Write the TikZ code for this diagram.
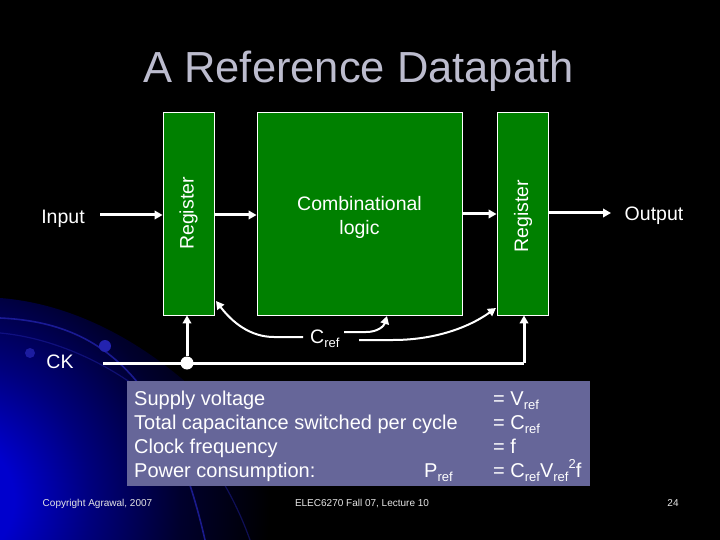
\documentclass[tikz,border=0pt]{standalone}
\usepackage{fontspec}
\setmainfont{Liberation Sans}
\usetikzlibrary{arrows.meta}
\definecolor{reggreen}{RGB}{0,128,0}
\definecolor{boxblue}{RGB}{102,102,153}
\definecolor{titlegray}{RGB}{188,188,206}
\definecolor{glowblue}{RGB}{0,0,205}
\definecolor{glowmid}{RGB}{0,0,125}
\definecolor{glowlow}{RGB}{0,0,45}
\definecolor{arcblue}{RGB}{35,35,175}
\definecolor{footgray}{RGB}{230,230,230}
\pgfdeclareradialshading{myglow}{\pgfpoint{0bp}{0bp}}{color(0bp)=(glowblue); color(5bp)=(glowblue); color(11bp)=(glowmid); color(18bp)=(glowlow); color(25bp)=(black); color(50bp)=(black)}
\newcommand\lowsub[1]{\raisebox{-0.22em}{\fontsize{13}{13}\selectfont #1}}
\newcommand\highsup[1]{\raisebox{0.45em}{\fontsize{13}{13}\selectfont #1}}
\begin{document}
\begin{tikzpicture}[x=1pt,y=-1pt,
  reg/.style={draw=white, fill=reggreen, line width=0.8pt, minimum width=51, minimum height=203, inner sep=0},
  comb/.style={draw=white, fill=reggreen, line width=0.8pt, minimum width=205, minimum height=203, inner sep=0},
  lbl/.style={text=white, inner sep=0, font=\fontsize{19.5}{24}\selectfont},
  boxtxt/.style={text=white, inner sep=0, anchor=base west, font=\fontsize{20}{24}\selectfont},
  foot/.style={text=footgray, inner sep=0, anchor=base, font=\fontsize{10}{12}\selectfont},
  wire/.style={white, line width=3pt},
  feed/.style={white, line width=2pt},
  tip/.style={-{Triangle[length=8,width=8.5]}}
]
\fill[black] (0,0) rectangle (720,540);
\useasboundingbox (0,0) rectangle (720,540);
% background glow
\begin{scope}
  \clip (0,298) .. controls (130,308) and (250,420) .. (305,540) -- (0,540) -- cycle;
  \shade[shading=myglow] (-50,500) circle (320);
\end{scope}
\draw[arcblue, line width=1.6pt, opacity=0.75] (0,318) .. controls (90,322) and (165,365) .. (205,540);
\draw[arcblue, line width=1.2pt, opacity=0.45] (0,333) .. controls (80,340) and (200,400) .. (250,540);
\fill[arcblue] (105,346) circle (6);
\fill[arcblue, opacity=0.8] (30,353) circle (5);

% title
\node[text=titlegray, inner sep=0, anchor=base, font=\fontsize{43.5}{50}\selectfont] (title) at (358.5,83) {A Reference Datapath};

% blocks
\node[reg] (reg1) at (188.5,213.5) {};
\node[lbl, rotate=90] (reg1t) at (reg1) {Register};
\node[comb] (comb) at (359.5,213.5) {};
\node[lbl, align=center] (combt) at (359.5,217) {Combinational\\logic};
\node[reg] (reg2) at (522.5,213.5) {};
\node[lbl, rotate=90] (reg2t) at (523,216) {Register};

\node[lbl, anchor=base] (input) at (63,224) {Input};
\node[lbl, anchor=base] (output) at (654,221) {Output};
\node[lbl, anchor=base] (ck) at (60,368) {CK};

\coordinate (ya) at (0,215);
\coordinate (yb) at (0,214);
\coordinate (inA) at (100,215);
\draw[wire,tip] (inA) -- (inA -| reg1.west);
\draw[wire,tip] (reg1.east |- ya) -- (comb.west |- ya);
\draw[wire,tip] (comb.east |- yb) -- (reg2.west |- yb);
\coordinate (outA) at (611,213);
\draw[wire,tip] (reg2.east |- outA) -- (outA);

% clock
\coordinate (ck0) at (103,363);
\coordinate (clk2) at (524,363);
\node[circle, fill=white, minimum size=13, inner sep=0] (dot) at (187,363) {};
\draw[wire] (ck0) -- (clk2);
\draw[wire,tip] (dot) -- (dot |- reg1.south);
\draw[wire,tip] (clk2) -- (clk2 |- reg2.south);

% Cref
\node[lbl, anchor=base west] (cref) at (310,343) {C\lowsub{ref}};
\coordinate (f1) at (303,337);
\coordinate (f2) at (344,332);
\coordinate (f3) at (359,340);
\coordinate (t1) at (216,301);
\coordinate (t2) at (387,316);
\coordinate (t3) at (496,308);
\draw[feed,tip] (f1) -- (274,337) .. controls (250,337) and (232,322) .. (t1);
\draw[feed,tip] (f2) -- (366,332) .. controls (378,332) and (384,326) .. (t2);
\draw[feed,tip] (f3) -- (393,340) .. controls (430,340) and (465,330) .. (t3);

% info box
\node[fill=boxblue, minimum width=463, minimum height=105, inner sep=0] (info) at (358.5,433.5) {};
\node[boxtxt] (r1) at (134,405) {Supply voltage};
\node[boxtxt] (r2) at (134,429) {Total capacitance switched per cycle};
\node[boxtxt] (r3) at (134,453) {Clock frequency};
\node[boxtxt] (r4) at (134,477) {Power consumption:};
\node[boxtxt] (p4) at (424,477) {P\lowsub{ref}};
\node[boxtxt] (e1) at (493,405) {= V\lowsub{ref}};
\node[boxtxt] (e2) at (493,429) {= C\lowsub{ref}};
\node[boxtxt] (e3) at (493,453) {= f};
\node[boxtxt] (e4) at (493,477) {= C\lowsub{ref}V\lowsub{ref}\highsup{2}f};

% footer
\node[foot] (copy) at (97.5,506) {Copyright Agrawal, 2007};
\node[foot] (course) at (362,506) {ELEC6270 Fall 07, Lecture 10};
\node[foot] (page) at (673,506) {24};
\end{tikzpicture}
\end{document}
